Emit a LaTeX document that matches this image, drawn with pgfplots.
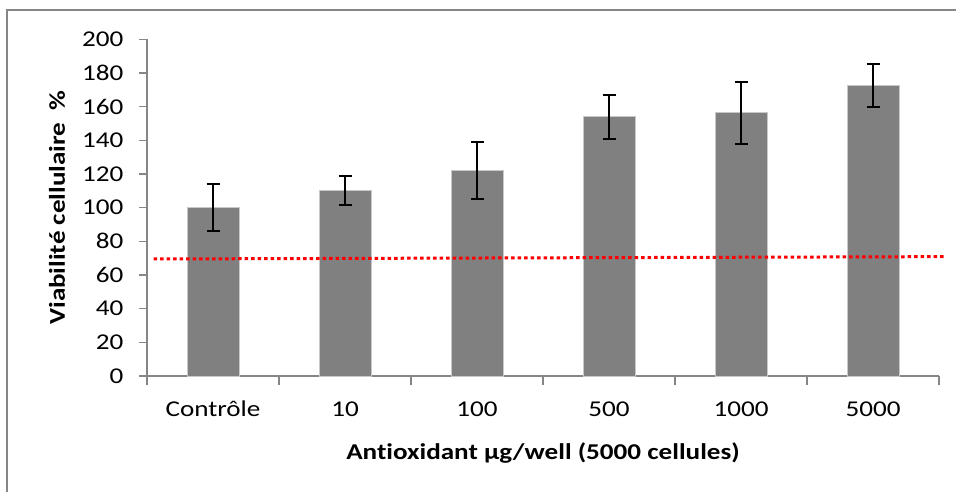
\documentclass[border=0pt]{standalone}
\usepackage{pgfplots}
\pgfplotsset{compat=1.18}
\usepackage{fontspec}
\setmainfont{Carlito}[FakeStretch=1.2, Ligatures=CommonOff]

\definecolor{axisgray}{RGB}{134,134,134}
\definecolor{bargray}{RGB}{128,128,128}
\definecolor{baredge}{RGB}{200,200,200}

\begin{document}
\begin{tikzpicture}[x=1bp,y=1bp]
\useasboundingbox (0,0) rectangle (956,492);
\fill[white] (0,0) rectangle (956,492);
% cadre du graphique
\draw[axisgray, line width=1.5bp] (7,0) -- (7,482) -- (956,482);

\begin{axis}[
  at={(147bp,116bp)}, anchor=south west,
  scale only axis, width=792bp, height=336.7bp,
  xmin=-0.5, xmax=5.5, ymin=0, ymax=200,
  axis lines=left, axis line style={-, axisgray, line width=1.2bp},
  clip=false,
  ytick={0,20,...,200},
  xtick={0,...,5},
  xticklabels={Contrôle,10,100,500,1000,5000},
  minor xtick={-0.5,0.5,...,5.5},
  major x tick style={draw=none},
  minor x tick style={axisgray, line width=1.2bp},
  major y tick style={axisgray, line width=1.2bp},
  tick align=outside,
  major tick length=8bp, minor tick length=9bp,
  /pgf/number format/assume math mode=true,
  tick label style={font=\fontsize{22.6bp}{26bp}\selectfont},
  xticklabel style={anchor=base, yshift=-33bp},
  yticklabel style={anchor=east, xshift=-12bp},
  xlabel={\textbf{Antioxidant µg/well (5000 cellules)}},
  ylabel={\textbf{Viabilité cellulaire~ \%}},
  label style={font=\fontsize{22.6bp}{26bp}\selectfont},
  xlabel style={at={(axis description cs:0.5,0)}, anchor=base, yshift=-84bp},
  ylabel style={at={(axis description cs:-0.1136,0.5)}, anchor=center},
]
\addplot[ybar, bar width=52bp, fill=bargray, draw=baredge, line width=0.8bp,
  error bars/.cd, y dir=both, y explicit,
  error bar style={black, line width=2bp},
  error mark options={rotate=90, mark size=6.5bp, line width=2bp, black}]
  table[x=x, y=y, y error=err] {
x y err
0 100.0 13.8
1 110.2 8.4
2 122.2 16.9
3 153.9 13.3
4 156.3 18.5
5 172.6 12.8
};
% seuil de viabilite
\addplot[red, line width=3bp, dash pattern=on 3.5bp off 3bp] coordinates {(-0.45,69.5) (5.55,70.9)};
\end{axis}
\end{tikzpicture}
\end{document}
